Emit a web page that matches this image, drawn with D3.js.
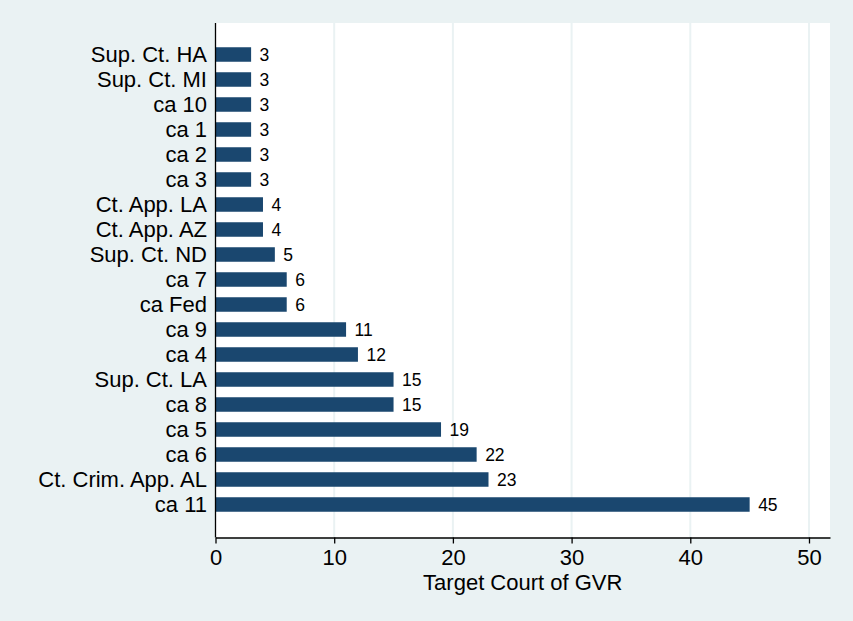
<!DOCTYPE html>
<html>
<head>
<meta charset="utf-8">
<script src="https://cdn.jsdelivr.net/npm/d3@7"></script>
<style>
  body { margin: 0; background: #eaf2f3; }
  svg { display: block; font-family: Arial, "Liberation Sans", sans-serif; }
</style>
</head>
<body>
<div id="canvas"></div>
<script>
var width = 853;
var height = 621;

// data
var courts = ["Sup. Ct. HA", "Sup. Ct. MI", "ca 10", "ca 1", "ca 2", "ca 3",
  "Ct. App. LA", "Ct. App. AZ", "Sup. Ct. ND", "ca 7", "ca Fed", "ca 9",
  "ca 4", "Sup. Ct. LA", "ca 8", "ca 5", "ca 6", "Ct. Crim. App. AL", "ca 11"];
var counts = [3, 3, 3, 3, 3, 3, 4, 4, 5, 6, 6, 11, 12, 15, 15, 19, 22, 23, 45];
var xTicks = [0, 10, 20, 30, 40, 50];

var plotLeft = 215.5, plotRight = 830, plotTop = 23, plotBottom = 537.5;

var svg = d3.select("#canvas")
  .append("svg")
  .attr("width", width)
  .attr("height", height);

svg.append("rect")
  .attr("width", width)
  .attr("height", height)
  .attr("fill", "#eaf2f3");

// plot region
svg.append("rect")
  .attr("x", plotLeft)
  .attr("y", plotTop)
  .attr("width", plotRight - plotLeft)
  .attr("height", plotBottom - plotTop)
  .attr("fill", "#fff");

var scalex = d3.scaleLinear().domain([0, 51.77]).range([plotLeft, plotRight]);
var scaley = d3.scaleBand()
  .domain(courts)
  .range([42, 517])
  .paddingInner(0.42)
  .paddingOuter(0.21);

// gridlines
svg.append("g")
  .selectAll("line")
  .data(xTicks.filter(function (t) { return t > 0; }))
  .enter()
  .append("line")
  .attr("x1", function (d) { return scalex(d); })
  .attr("x2", function (d) { return scalex(d); })
  .attr("y1", plotTop)
  .attr("y2", plotBottom)
  .attr("stroke", "#eaf2f3")
  .attr("stroke-width", 2);

// bars
svg.append("g")
  .selectAll("rect")
  .data(courts)
  .enter()
  .append("rect")
  .attr("x", scalex(0))
  .attr("y", function (d) { return scaley(d); })
  .attr("width", function (d, i) { return scalex(counts[i]) - scalex(0); })
  .attr("height", scaley.bandwidth())
  .attr("fill", "#1a476f");

// value labels
svg.append("g")
  .selectAll("text")
  .data(courts)
  .enter()
  .append("text")
  .attr("x", function (d, i) { return scalex(counts[i]) + 8.5; })
  .attr("y", function (d) { return scaley(d) + scaley.bandwidth() / 2; })
  .attr("dy", "0.36em")
  .attr("font-size", "17.5px")
  .attr("fill", "#000")
  .text(function (d, i) { return counts[i]; });

// category labels
svg.append("g")
  .selectAll("text")
  .data(courts)
  .enter()
  .append("text")
  .attr("x", plotLeft - 8.5)
  .attr("y", function (d) { return scaley(d) + scaley.bandwidth() / 2; })
  .attr("dy", "0.36em")
  .attr("text-anchor", "end")
  .attr("font-size", "22px")
  .attr("fill", "#000")
  .text(function (d) { return d; });

// y axis line
svg.append("line")
  .attr("x1", plotLeft).attr("x2", plotLeft)
  .attr("y1", plotTop).attr("y2", plotBottom)
  .attr("stroke", "#000")
  .attr("stroke-width", 1.3);

// x axis
var xaxis = d3.axisBottom(scalex).tickValues(xTicks).tickSize(6).tickPadding(6).tickSizeOuter(0);
var gx = svg.append("g")
  .attr("transform", "translate(0," + plotBottom + ")")
  .call(xaxis);
gx.select(".domain").attr("stroke", "#000").attr("stroke-width", 1.3);
gx.selectAll(".tick line").attr("stroke", "#000").attr("stroke-width", 1.3);
gx.selectAll(".tick text")
  .attr("font-size", "22px")
  .attr("font-family", "Arial, 'Liberation Sans', sans-serif")
  .attr("fill", "#000");

// axis title
svg.append("text")
  .attr("x", (plotLeft + plotRight) / 2)
  .attr("y", 590)
  .attr("text-anchor", "middle")
  .attr("font-size", "22px")
  .attr("fill", "#000")
  .text("Target Court of GVR");
</script>
</body>
</html>
